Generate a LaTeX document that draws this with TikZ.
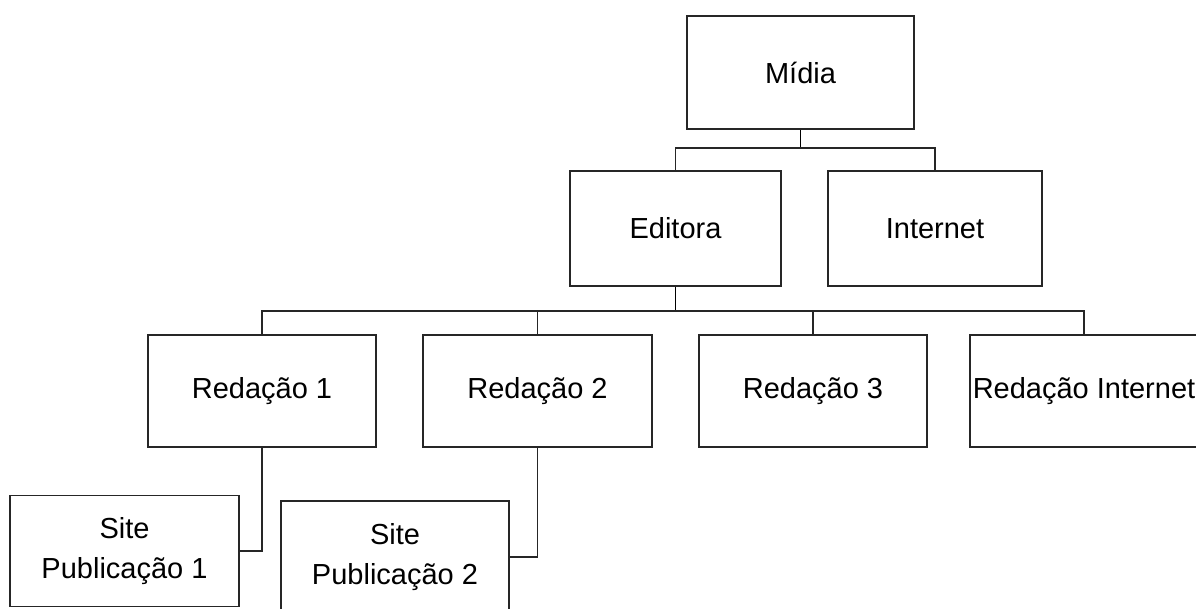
\documentclass[tikz,border=0pt]{standalone}
\usepackage{fontspec}
\setmainfont{Liberation Sans}
\begin{document}
\begin{tikzpicture}[x=1pt,y=-1pt,
  box/.style={draw=black!85, line width=1.3pt, inner sep=0pt, fill=white,
    minimum width=228pt, minimum height=112pt, align=center,
    font=\fontsize{29}{40}\selectfont},
  link/.style={draw=black!85, line width=1.1pt},
  trunk/.style={draw=black, line width=1.7pt}]
\useasboundingbox (0,0) rectangle (1196,608);
\clip (0,0) rectangle (1196,608);
\node[box, minimum width=227pt, minimum height=113pt] (M) at (800.5,72.5) {Mídia};
\node[box, minimum width=211pt, minimum height=115pt] (E) at (675.5,228.5) {Editora};
\node[box, minimum width=214pt, minimum height=115pt] (I) at (935,228.5) {Internet};
\node[box] (R1) at (262,391) {Redação 1};
\node[box, minimum width=229pt] (R2) at (537.5,391) {Redação 2};
\node[box] (R3) at (813,391) {Redação 3};
\node[box] (R4) at (1084,391) {Redação Internet};
\node[box, minimum width=229pt, minimum height=111pt] (S1) at (124.5,551) {Site\\Publicação 1};
\node[box] (S2) at (395,557) {Site\\Publicação 2};
\coordinate (j1) at (800.5,148);
\coordinate (j2) at (675.5,311);
\draw[trunk] (M.south) -- (j1);
\draw[link] (E.north) -- (E.north |- j1) -- (I.north |- j1) -- (I.north);
\draw[trunk] (E.south) -- (j2);
\draw[link] (R1.north) -- (R1.north |- j2) -- (R4.north |- j2) -- (R4.north);
\draw[link] (R2.north) -- (R2.north |- j2);
\draw[link] (R3.north) -- (R3.north |- j2);
\draw[link] (R1.south) |- (S1.east);
\draw[link] (R2.south) |- (S2.east);
\end{tikzpicture}
\end{document}
